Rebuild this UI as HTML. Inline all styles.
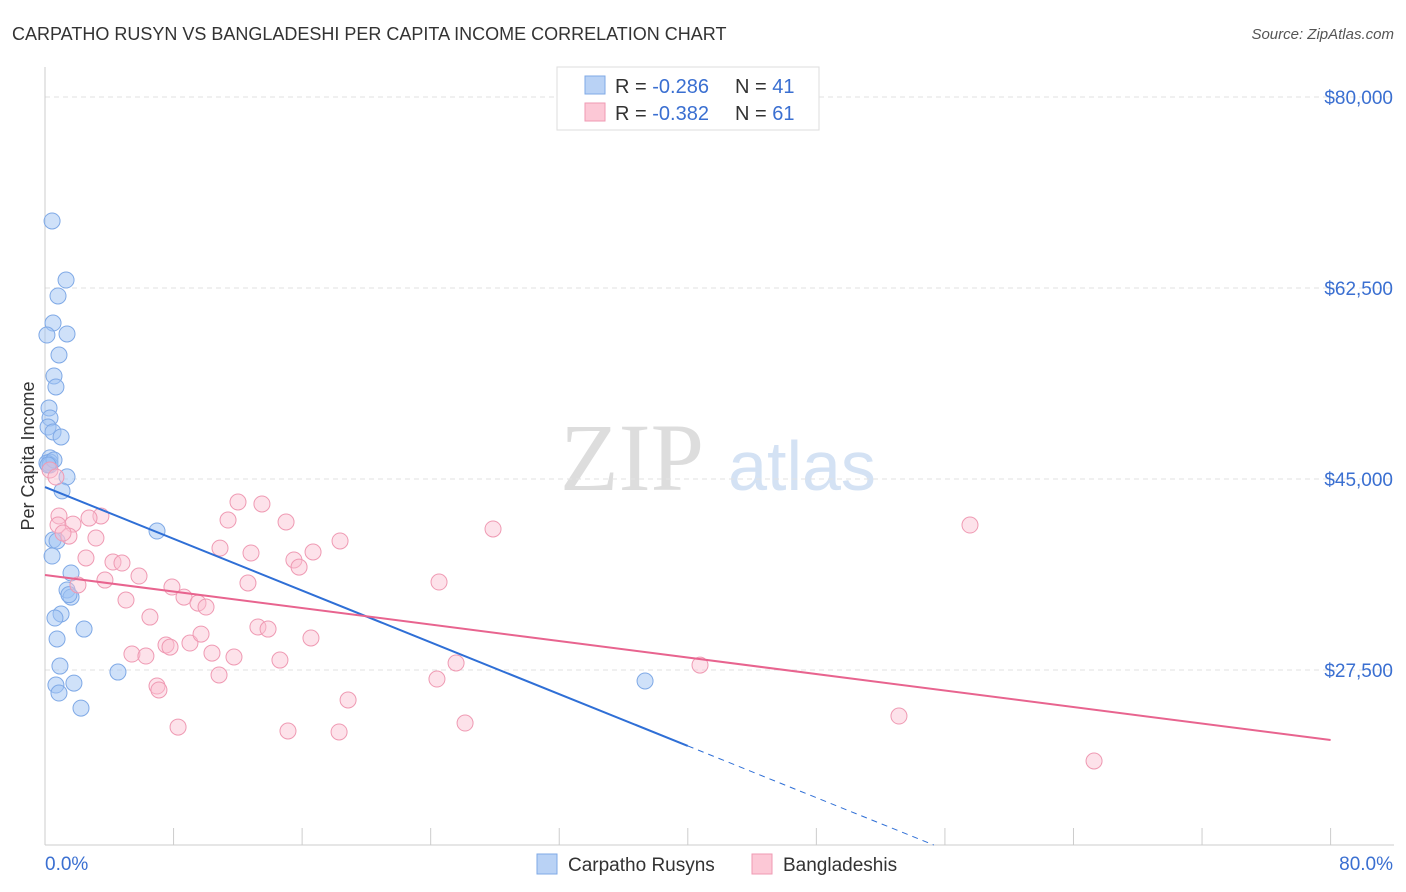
<!DOCTYPE html>
<html><head><meta charset="utf-8"><style>
body{margin:0;background:#fff;font-family:"Liberation Sans",sans-serif;}
#c{position:relative;width:1406px;height:892px;overflow:hidden;}
</style></head><body>
<div id="c">
<svg id="s" width="1406" height="892" xmlns="http://www.w3.org/2000/svg">
<text x="12" y="40" font-size="18" fill="#333">CARPATHO RUSYN VS BANGLADESHI PER CAPITA INCOME CORRELATION CHART</text>
<text x="1394" y="39" font-size="15" fill="#555" text-anchor="end" font-style="italic">Source: ZipAtlas.com</text>
<text x="34" y="456" font-size="18" fill="#333" text-anchor="middle" transform="rotate(-90 34 456)">Per Capita Income</text>
<text x="632" y="490" font-size="96" fill="#ddd" font-family="Liberation Serif,serif" text-anchor="middle">ZIP</text>
<text x="802" y="490" font-size="70" fill="#d4e2f4" text-anchor="middle">atlas</text>
<g id="grid"></g><g id="pts"></g><g id="lines"></g>
<g>
<rect x="557" y="67" width="262" height="63" fill="#fff" stroke="#ddd"/>
<rect x="585" y="76" width="20" height="18" fill="#b9d2f5" stroke="#7fa9e6"/>
<rect x="585" y="103" width="20" height="18" fill="#fcc8d6" stroke="#ef9ab3"/>
<text x="615" y="93" font-size="20" fill="#333">R = <tspan fill="#3a6fd1">-0.286</tspan><tspan x="735">N = </tspan><tspan fill="#3a6fd1">41</tspan></text>
<text x="615" y="120" font-size="20" fill="#333">R = <tspan fill="#3a6fd1">-0.382</tspan><tspan x="735">N = </tspan><tspan fill="#3a6fd1">61</tspan></text>
</g>
<g>
<rect x="537" y="854" width="20" height="20" fill="#b9d2f5" stroke="#7fa9e6"/>
<text x="568" y="871" font-size="19" fill="#333">Carpatho Rusyns</text>
<rect x="752" y="854" width="20" height="20" fill="#fcc8d6" stroke="#ef9ab3"/>
<text x="783" y="871" font-size="19" fill="#333">Bangladeshis</text>
</g>
<text x="45" y="870" font-size="19" fill="#3a6fd1">0.0%</text>
<text x="1393" y="870" font-size="19" fill="#3a6fd1" text-anchor="end">80.0%</text>
</svg></div>
<script>
const yTicks=[80000,62500,45000,27500];
const yTickLabels=["$80,000","$62,500","$45,000","$27,500"];
const blueX=[0.44,1.31,0.81,0.50,1.37,0.12,0.87,0.56,0.68,0.25,0.31,0.19,0.50,1.00,0.31,0.31,0.12,1.37,1.06,6.97,0.50,0.75,0.44,1.62,1.37,1.62,1.49,1.00,0.62,2.43,0.75,0.93,4.54,0.68,1.80,0.87,2.24,37.34,0.31,0.56,0.19];
const blueY=[68640,63230,61770,59290,58290,58190,56360,54440,53430,51510,50590,49760,49310,48850,46930,46560,46470,45190,43910,40230,39410,39320,37940,36390,34830,34180,34400,32630,32260,31250,30340,27860,27310,26120,26300,25390,24010,26490,46280,46740,46280];
const pinkX=[.31,.68,.87,.81,1.74,1.49,1.12,3.48,2.74,3.17,2.55,2.05,3.73,4.23,4.79,5.85,5.04,6.53,5.41,6.28,6.97,7.09,7.53,7.78,8.28,7.90,8.65,9.02,9.52,9.71,10.02,10.39,10.83,11.39,10.89,11.76,12.01,12.63,12.82,13.50,13.25,13.88,15.00,14.62,15.12,15.49,15.81,16.68,16.55,18.36,18.30,18.86,24.52,24.39,25.58,26.14,27.88,40.76,53.14,57.56,65.28];
const pinkY=[45820,45180,41610,40780,40870,39770,40050,41610,41420,39590,37760,35290,35740,37390,37300,36110,33910,32350,28960,28780,26030,25670,29790,29600,22270,35100,34180,29970,33630,30790,33270,29050,27040,41240,38670,28690,42890,35470,38220,42710,31440,31250,41060,28410,21910,37580,36930,38310,30430,39320,21820,24750,35560,26670,28140,22640,40420,27950,23280,40780,19160];
const blueTrend=[44264,-593];
const pinkTrend=[36200,-189];
const NS="http://www.w3.org/2000/svg";
const X=p=>45+p*16.07, Y=v=>97+(80000-v)*0.010914;
function mk(t,a,parent){const e=document.createElementNS(NS,t);for(const k in a)e.setAttribute(k,a[k]);document.getElementById(parent).appendChild(e);return e;}
yTicks.forEach((v,i)=>{
 const l=mk('line',{x1:45,x2:1394,y1:Y(v),y2:Y(v),stroke:'#e2e2e2','stroke-dasharray':'5,4'},'grid');
 
 
 const t=mk('text',{x:1393,y:Y(v)+7,'font-size':19,fill:'#3a6fd1','text-anchor':'end'},'grid');
 t.textContent=yTickLabels[i];
 
 
});
mk('line',{x1:45,x2:45,y1:67,y2:845,stroke:'#ccc'},'grid');
mk('line',{x1:45,x2:1394,y1:845,y2:845,stroke:'#ccc'},'grid');
for(let i=0;i<=10;i++){const tk=mk('line',{x1:X(i*8),x2:X(i*8),y1:828,y2:845,stroke:'#ccc'},'grid');
 
 }
blueX.forEach((x,i)=>{const c=mk('circle',{cx:X(x),cy:Y(blueY[i]),r:8,fill:'rgba(160,196,244,0.5)',stroke:'#7fa9e6','stroke-width':1},'pts');
 
 });
pinkX.forEach((x,i)=>{const c=mk('circle',{cx:X(x),cy:Y(pinkY[i]),r:8,fill:'rgba(250,190,208,0.45)',stroke:'#ef9ab3','stroke-width':1},'pts');
 
 });
const bt=p=>blueTrend[0]+blueTrend[1]*p, pt=p=>pinkTrend[0]+pinkTrend[1]*p;
const xEnd=blueX.reduce((a,b)=>Math.max(a,b));
const pEnd=(11465-blueTrend[0])/blueTrend[1];
let l1=mk('line',{x1:X(0),y1:Y(bt(0)),x2:X(40),y2:Y(bt(40)),stroke:'#2f6fd6','stroke-width':2},'lines');


let l2=mk('line',{x1:X(40),y1:Y(bt(40)),x2:X(pEnd),y2:Y(bt(pEnd)),stroke:'#2f6fd6','stroke-width':1,'stroke-dasharray':'6,5'},'lines');


let l3=mk('line',{x1:X(0),y1:Y(pt(0)),x2:X(80),y2:Y(pt(80)),stroke:'#e8648f','stroke-width':2},'lines');


</script>
</body></html>
